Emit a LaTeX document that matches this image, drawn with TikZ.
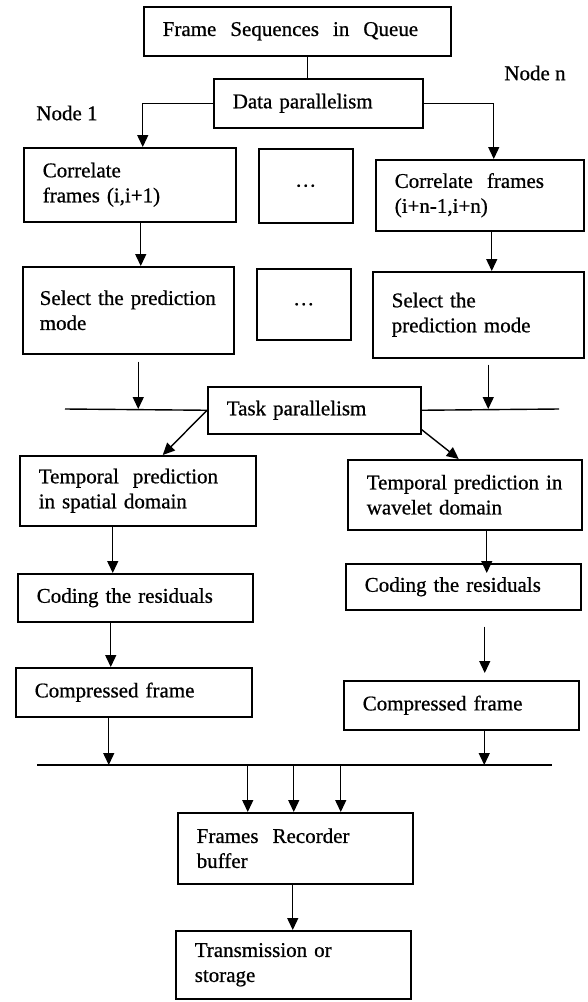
\documentclass[tikz,border=0pt]{standalone}
\usepackage{fontspec}
\setmainfont{Liberation Serif}[FakeBold=0.7]
\usetikzlibrary{arrows.meta}

\begin{document}
\begin{tikzpicture}[x=1pt,y=-1pt,font=\fontsize{21}{25}\selectfont,
   blk/.style={draw,line width=1.5pt,anchor=north west,align=left,inner xsep=19pt,inner ysep=0pt},
   arr/.style={-{Triangle[length=12pt,width=11pt]},line width=1.4pt},
   ln/.style={line width=1.4pt}]
  \fill[white] (0,0) rectangle (587,1002);
  \useasboundingbox (0,0) rectangle (587,1002);
  \node[blk,text width=269pt,minimum height=49pt] (queue) at (143,6) {Frame\ \ Sequences\ \ in\ \ Queue};
  \node[blk,text width=171pt,minimum height=49pt] (data) at (213,78) {Data parallelism};
  \node (lab1) at (67,113) {Node 1};
  \node (labn) at (535,73) {Node n};
  \node[blk,text width=174pt,minimum height=74pt] (cor1) at (23,147) {Correlate\\frames (i,i+1)};
  \node[blk,text width=56pt,minimum height=74pt,align=center] (dots1) at (258,148) {\ldots};
  \node[blk,text width=170pt,minimum height=71pt] (corn) at (375,159) {Correlate\ \ frames\\(i+n-1,i+n)};
  \node[blk,text width=177pt,inner xsep=17pt,minimum height=87pt] (sel1) at (22,266) {Select the prediction\\mode};
  \node[blk,text width=56pt,minimum height=71pt,align=center] (dots2) at (256,268) {\ldots};
  \node[blk,text width=173pt,minimum height=86pt] (seln) at (372,271) {Select the\\prediction mode};
  \node[blk,text width=175pt,minimum height=47pt] (task) at (207,386) {Task parallelism};
  \node[blk,text width=198pt,minimum height=70pt] (temp1) at (19,455) {Temporal\ \ prediction\\in spatial domain};
  \node[blk,text width=196pt,minimum height=70pt] (tempn) at (347,459) {Temporal prediction in\\wavelet domain};
  \node[blk,text width=197pt,minimum height=48pt] (code1) at (17,573) {Coding the residuals};
  \node[blk,text width=198pt,minimum height=49pt] (comp1) at (15,667) {Compressed frame};
  \node[blk,text width=197pt,minimum height=46pt] (coden) at (345,563) {Coding the residuals};
  \node[blk,text width=197pt,minimum height=49pt] (compn) at (343,680) {Compressed frame};
  \node[blk,text width=197pt,minimum height=71pt] (frames) at (177,812) {Frames\ \ Recorder\\buffer};
  \node[blk,text width=197pt,minimum height=68pt] (trans) at (175,930) {Transmission or\\storage};
  \coordinate (tl) at (65,409);
  \coordinate (tr) at (559,409);
  \coordinate (bl) at (37,765);
  \coordinate (br) at (552,765);
  \draw[ln] ([xshift=10.5pt]queue.south) -- ([xshift=10.5pt]queue.south |- data.north);
  \draw[arr] (data.west) -| ([xshift=13pt]cor1.north);
  \draw[arr] (data.east) -| ([xshift=14pt]corn.north);
  \draw[arr] ([xshift=11pt]cor1.south) -- ([xshift=11pt]cor1.south |- sel1.north);
  \draw[arr] ([xshift=12pt]corn.south) -- ([xshift=12pt]corn.south |- seln.north);
  \draw[ln] (tl) -- (task.west) (task.east) -- (tr);
  \draw[arr,shorten <=7pt] ([xshift=10pt]sel1.south) -- ([xshift=10pt]sel1.south |- tl);
  \draw[arr,shorten <=6pt] ([xshift=10pt]seln.south) -- ([xshift=10pt]seln.south |- tr);
  \draw[arr] (task.west) -- ([xshift=25pt]temp1.north);
  \draw[arr] ([yshift=5pt]task.south east) -- ([xshift=-6pt]tempn.north);
  \draw[arr] ([xshift=-25pt]temp1.south) -- ([xshift=-25pt]temp1.south |- code1.north);
  \draw[arr] ([xshift=-24.5pt]code1.south) -- ([xshift=-24.5pt]code1.south |- comp1.north);
  \draw[arr,shorten >=-10pt] ([xshift=22pt]tempn.south) -- ([xshift=22pt]tempn.south |- coden.north);
  \draw[arr,shorten <=16pt,shorten >=7pt] ([xshift=21.5pt]coden.south) -- ([xshift=21.5pt]coden.south |- compn.north);
  \draw[ln] (bl) -- (br);
  \draw[arr] ([xshift=-25pt]comp1.south) -- ([xshift=-25pt]comp1.south |- bl);
  \draw[arr] ([xshift=23pt]compn.south) -- ([xshift=23pt]compn.south |- br);
  \foreach \dx in {-47.5,-1.5,45.5}
    \draw[arr] ([xshift=\dx pt]frames.north |- bl) -- ([xshift=\dx pt]frames.north);
  \draw[arr] ([xshift=-2.5pt]frames.south) -- ([xshift=-2.5pt]frames.south |- trans.north);
\end{tikzpicture}
\end{document}
